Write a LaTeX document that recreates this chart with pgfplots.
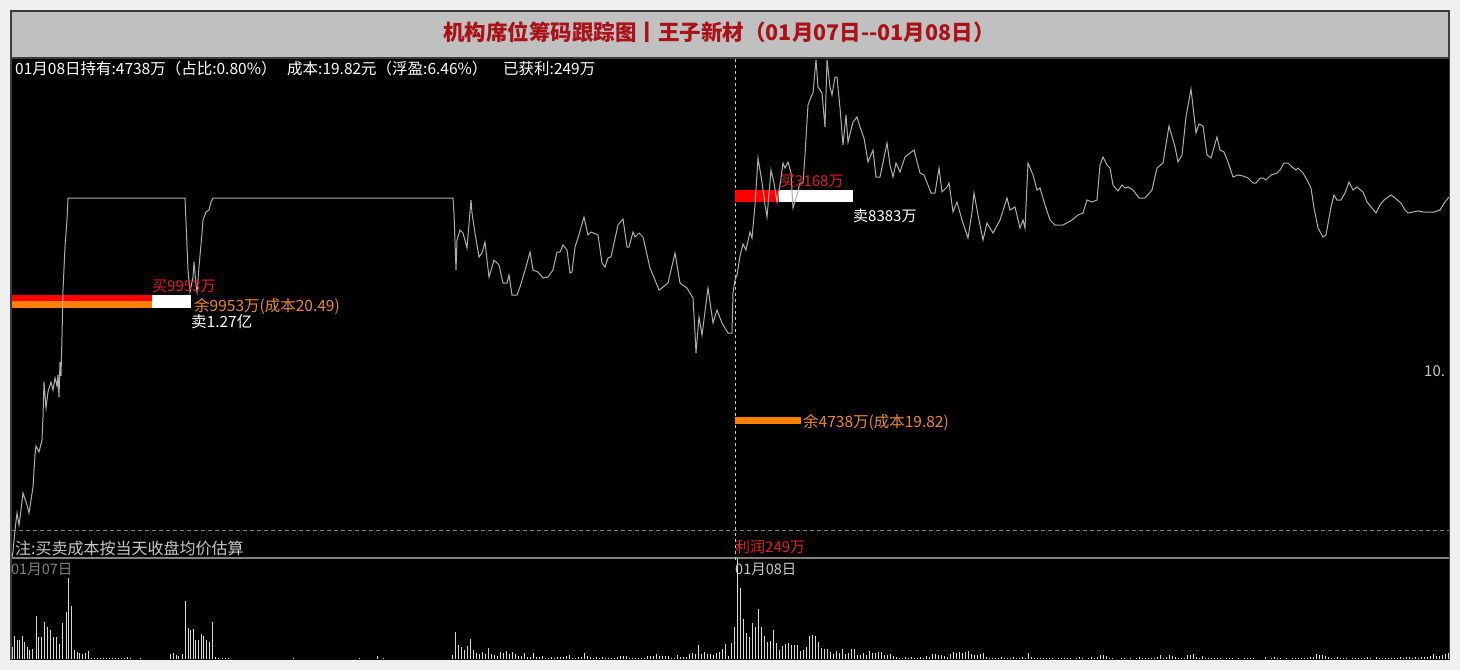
\documentclass[border=0pt]{standalone}
\usepackage{fontspec}
\setmainfont{Noto Sans CJK SC}
\usepackage{pgfplots}
\pgfplotsset{compat=1.18}
\definecolor{outerbg}{RGB}{240,240,240}
\definecolor{framec}{RGB}{60,60,60}
\definecolor{titlebg}{RGB}{192,192,192}
\definecolor{titlered}{RGB}{168,18,24}
\definecolor{pricec}{RGB}{175,175,175}
\definecolor{volc}{RGB}{215,215,215}
\definecolor{buyred}{RGB}{255,0,0}
\definecolor{txtred}{RGB}{225,30,30}
\definecolor{restor}{RGB}{255,128,0}
\definecolor{txtor}{RGB}{235,135,50}
\definecolor{sepgray}{RGB}{128,128,128}
\definecolor{notec}{RGB}{200,200,200}
\begin{document}
\begin{tikzpicture}
\useasboundingbox (0,0) rectangle (1460pt,670pt);
\begin{scope}[x=1pt,y=-1pt,shift={(0pt,670pt)}]
\fill[outerbg] (0,0) rectangle (1460,670);
\fill[framec] (10,10) rectangle (1450,660);
\fill[titlebg] (12,12) rectangle (1448,57);
\fill[black] (12,59) rectangle (1449,660);
\end{scope}
\begin{axis}[at={(0pt,0pt)}, anchor=south west, width=1460pt, height=670pt,
  scale only axis, xmin=0, xmax=1460, ymin=0, ymax=670, y dir=reverse,
  hide axis, clip=false]
% separator and grid lines
\draw[sepgray, line width=2pt] (axis cs:12,557.5) -- (axis cs:1449,557.5);
\draw[sepgray, line width=1pt, dash pattern=on 4pt off 3pt] (axis cs:12,530) -- (axis cs:1449,530);
\draw[notec, line width=1pt, dash pattern=on 3pt off 3pt] (axis cs:735,59) -- (axis cs:735,560);
% buy / sell / remaining bars
\addplot[fill=buyred, draw=none] coordinates {(12,295) (152,295) (152,301) (12,301)} --cycle;
\addplot[fill=restor, draw=none] coordinates {(12,301) (152,301) (152,308) (12,308)} --cycle;
\addplot[fill=white, draw=none] coordinates {(152,295) (191,295) (191,308) (152,308)} --cycle;
\addplot[fill=buyred, draw=none] coordinates {(735,190) (779,190) (779,202) (735,202)} --cycle;
\addplot[fill=white, draw=none] coordinates {(779,190) (853,190) (853,202) (779,202)} --cycle;
\addplot[fill=restor, draw=none] coordinates {(735,417) (801,417) (801,424) (735,424)} --cycle;
% price line
\addplot[pricec, line width=1pt] coordinates {
(12,557) (13,552) (15,530) (17,513) (19,525) (21,510) (23,493) (27,505) (29,513) (33,487)
(35,455) (36,446) (39,452) (42,440) (43,417) (44,382) (46,408) (48,392) (51,382) (53,390)
(55,378) (57,386) (58,375) (59,397) (60,362) (61,376) (62,337) (63,290) (65,247) (67,220) (68,198)
(185,198) (188,270) (190,292) (193,277) (194,262) (196,285) (197,292) (199,267) (202,233)
(203,220) (206,212) (209,210) (211,202) (213,198)
(453,198) (454,213) (456,270) (457,240) (460,230) (463,233) (467,248) (471,200) (472,213)
(475,233) (479,257) (482,253) (485,242) (487,260) (489,277) (492,267) (494,260) (499,265)
(503,283) (507,283) (509,275) (512,295) (517,295) (520,287) (526,267) (530,252) (533,270)
(538,272) (543,278) (548,277) (553,270) (557,252) (560,252) (563,245) (567,250) (570,273)
(572,272) (575,247) (578,238) (584,217) (588,235) (591,232) (598,235) (602,263) (605,267)
(608,258) (611,257) (618,225) (623,219) (627,247) (629,247) (633,232) (635,237) (639,233)
(643,237) (650,268) (653,275) (659,290) (663,287) (668,283) (675,253) (680,283) (687,288)
(693,298) (695,333) (696,353) (699,317) (702,335) (708,288) (713,323) (717,310) (722,323)
(728,333) (732,333) (733,293) (735,280) (737,275) (740,256)
(741,252) (743,244) (746,250) (750,232) (752,238) (755,205) (758,158) (762,182) (765,205)
(767,217) (771,170) (774,183) (777,202) (780,185) (783,163) (785,168) (788,162) (791,173)
(793,208) (797,195) (800,183) (803,183) (805,155) (808,105) (811,97) (813,93) (816,60)
(818,87) (822,93) (825,127) (827,60) (830,87) (832,95) (835,77) (837,77) (840,108) (843,145)
(846,115) (848,142) (853,122) (857,117) (860,127) (864,138) (868,162) (873,150) (876,177)
(880,177) (887,143) (890,165) (893,177) (896,163) (900,172) (905,157) (910,153) (914,150)
(920,173) (924,175) (928,185) (931,193) (935,193) (939,168) (942,192) (947,187) (949,183)
(953,212) (957,202) (962,220) (968,238) (972,212) (974,193) (978,215) (983,240) (987,223)
(993,233) (1000,220) (1007,198) (1010,210) (1015,207) (1020,228) (1023,220) (1025,228)
(1028,163) (1033,175) (1037,190) (1040,188) (1045,205) (1050,220) (1055,225) (1063,225)
(1072,220) (1078,215) (1083,213) (1087,200) (1092,202) (1097,200) (1100,165) (1103,157)
(1107,165) (1110,168) (1113,185) (1118,191) (1122,185) (1125,188) (1128,187) (1133,190)
(1139,198) (1145,198) (1152,190) (1157,168) (1163,163) (1169,126) (1175,147) (1178,162)
(1182,155) (1186,117) (1191,89) (1196,133) (1199,124) (1203,126) (1207,155) (1211,158)
(1217,137) (1220,150) (1224,152) (1228,162) (1233,177) (1238,175) (1243,176) (1248,178)
(1253,183) (1256,183) (1260,178) (1263,178) (1266,180) (1271,175) (1277,173) (1280,170)
(1284,163) (1288,163) (1292,167) (1296,170) (1298,168) (1303,173) (1307,180) (1311,188)
(1314,208) (1318,228) (1323,237) (1326,235) (1331,207) (1334,195) (1337,200) (1341,200)
(1345,193) (1349,182) (1353,190) (1357,187) (1363,192) (1367,202) (1372,208) (1376,213)
(1380,205) (1384,200) (1391,195) (1395,198) (1401,203) (1405,210) (1408,213) (1413,212)
(1418,211) (1423,212) (1428,212) (1434,212) (1440,210) (1445,202) (1449,197)};
% texts
\node[text=titlered, font=\fontsize{21.5}{21.5}\selectfont\bfseries, inner sep=0pt] at (axis cs:719,32) {机构席位筹码跟踪图丨王子新材（01月07日-{}-01月08日）};
\node[anchor=west, text=white, font=\fontsize{15.5}{15.5}\selectfont, inner sep=0pt] at (axis cs:15,69) {01月08日持有:4738万（占比:0.80\%）};
\node[anchor=west, text=white, font=\fontsize{15.5}{15.5}\selectfont, inner sep=0pt] at (axis cs:287,69) {成本:19.82元（浮盈:6.46\%）};
\node[anchor=west, text=white, font=\fontsize{15.5}{15.5}\selectfont, inner sep=0pt] at (axis cs:503,69) {已获利:249万};
\node[anchor=west, text=txtred, font=\fontsize{15}{15}\selectfont, inner sep=0pt] at (axis cs:152,286) {买9953万};
\node[anchor=west, text=txtor, font=\fontsize{15.5}{15.5}\selectfont, inner sep=0pt] at (axis cs:194,306) {余9953万(成本20.49)};
\node[anchor=west, text=white, font=\fontsize{15.5}{15.5}\selectfont, inner sep=0pt] at (axis cs:191,322) {卖1.27亿};
\node[anchor=west, text=txtred, font=\fontsize{15}{15}\selectfont, inner sep=0pt] at (axis cs:780,181) {买3168万};
\node[anchor=west, text=white, font=\fontsize{15}{15}\selectfont, inner sep=0pt] at (axis cs:853,216) {卖8383万};
\node[anchor=west, text=txtor, font=\fontsize{15.5}{15.5}\selectfont, inner sep=0pt] at (axis cs:803,422) {余4738万(成本19.82)};
\node[anchor=west, text=notec, font=\fontsize{15}{15}\selectfont, inner sep=0pt] at (axis cs:1424,371) {10.};
\node[anchor=west, text=notec, font=\fontsize{16}{16}\selectfont, inner sep=0pt] at (axis cs:15,548) {注:买卖成本按当天收盘均价估算};
\node[anchor=west, text=txtred, font=\fontsize{15}{15}\selectfont, inner sep=0pt] at (axis cs:735,547) {利润249万};
\node[anchor=west, text=sepgray, font=\fontsize{14.5}{14.5}\selectfont, inner sep=0pt] at (axis cs:11,569) {01月07日};
\node[anchor=west, text=notec, font=\fontsize{14.5}{14.5}\selectfont, inner sep=0pt] at (axis cs:735,569) {01月08日};
\end{axis}
\begin{axis}[at={(11pt,11pt)}, anchor=south west, width=1438pt, height=100pt,
  scale only axis, xmin=11, xmax=1449, ymin=0, ymax=100, hide axis, clip=false]
\addplot[ycomb, volc, line width=1pt] coordinates {
(12,12) (14,23) (17,19) (19,19) (22,23) (24,17) (27,12) (29,9) (32,10) (36,43) (38,22) (41,22)
(44,37) (47,32) (50,29) (53,22) (56,22) (59,15) (62,36) (66,47) (68,81) (71,53) (74,9) (77,7)
(79,6) (82,5) (85,6) (88,8) (91,1.5) (94,1.5) (97,1) (100,1) (103,1) (106,1) (109,1) (112,1)
(115,1) (118,1) (121,1) (124,1.5) (127,2) (130,1) (140,1) (170,5) (173,6) (176,4) (178,3)
(182,5) (185,58) (188,31) (190,29) (193,30) (195,19) (198,19) (201,25) (203,23) (206,19)
(209,17) (212,37) (215,2) (218,1.5) (222,1) (225,1) (228,1) (293,1) (359,1) (377,3) (383,1)
(452,4) (455,27) (458,14.5) (461,12) (464,8.6) (467,13.4) (470,19.7) (473,9.3) (476,6.5)
(479,5.5) (482,7) (485,5) (488,11) (491,5) (494,4) (497,3) (500,7) (503,6.5) (506,8) (509,5)
(512,7) (515,5) (518,3.5) (521,3.5) (524,6) (527,2) (530,2) (533,6) (536,2) (539,2) (542,3.5)
(545,1) (548,1) (551,2) (554,1) (557,2) (560,2) (563,2.5) (566,3) (569,4) (572,1) (575,1)
(578,2) (581,2) (584,6) (587,3) (590,2) (593,1) (596,2) (599,1) (602,2) (605,1) (608,1)
(611,1) (614,1) (617,2) (620,3) (623,3.5) (626,3) (629,1) (632,1) (635,1) (638,1) (641,1)
(644,1) (647,3) (650,3) (653,3) (656,5) (659,3) (662,3) (665,3) (668,3) (671,1) (674,1)
(677,4) (680,2) (683,2) (686,2) (689,5) (692,6) (695,5) (698,14.5) (701,5) (704,7) (707,5)
(710,5) (713,4) (716,6) (719,7) (722,10) (725,15) (728,3) (731,16) (734,32)
(737,100) (740,70.7) (743,39.7) (746,25.7) (749,22.3) (752,35.7) (755,31.7) (758,49.7)
(761,31.7) (764,23) (767,17.3) (770,18.3) (773,29) (776,16.3) (779,9) (782,13) (785,15)
(788,15.7) (791,13.7) (794,14) (797,14) (800,8.3) (803,9) (806,12.3) (809,23) (812,24)
(815,23) (818,17.3) (821,10.7) (824,9.7) (827,9.7) (830,7.3) (833,5) (836,8.3) (839,6)
(842,10) (845,5) (848,5.7) (851,10.3) (854,10.3) (857,4) (860,4) (863,5.7) (866,4) (869,7.7)
(872,6.3) (875,5.7) (878,7.3) (881,7.3) (884,4) (887,4) (890,4.7) (893,3) (896,2) (899,1)
(902,1) (905,2) (908,1) (911,2) (914,1) (917,1) (920,2) (923,1) (926,3) (929,2) (932,5)
(935,5) (938,3.7) (941,4) (944,3) (947,2.3) (950,5) (953,7.3) (956,6.3) (959,7.3) (962,6.3)
(965,7.3) (968,8.3) (971,5) (974,4) (977,4) (980,5) (983,6.3) (986,2) (989,1) (992,1) (995,1)
(998,1) (1001,2) (1004,1) (1007,1) (1010,1) (1013,2) (1016,1) (1019,1) (1022,2) (1025,1)
(1028,6.3) (1031,2) (1034,1) (1037,1) (1040,1) (1043,1) (1046,1) (1049,1) (1052,1) (1058,1)
(1061,1) (1064,1) (1067,1) (1070,1) (1076,1) (1079,2) (1082,1) (1088,1) (1091,2) (1094,1)
(1097,2) (1100,4) (1103,4) (1106,3) (1109,1) (1112,1) (1121,1) (1124,1) (1130,1) (1136,1)
(1139,2) (1142,1) (1145,1) (1148,1) (1151,1) (1154,1) (1157,2) (1160,4) (1163,1) (1166,2)
(1169,4) (1172,3) (1175,2) (1178,1) (1181,1) (1184,1) (1187,4) (1190,4) (1193,5) (1196,2)
(1199,1) (1202,3) (1205,1) (1208,1) (1211,1) (1214,1) (1217,1) (1220,1) (1226,1) (1229,1)
(1232,1) (1238,1) (1244,1) (1247,1) (1250,1) (1253,1) (1265,2) (1271,1) (1274,2) (1277,1)
(1280,1) (1286,1) (1292,1) (1295,1) (1298,1) (1301,1) (1304,1) (1307,1) (1310,2) (1313,2)
(1316,5) (1319,4) (1322,4) (1325,3) (1328,2) (1331,1) (1334,1) (1337,2) (1340,1) (1343,1)
(1346,1) (1352,1) (1355,1) (1358,1) (1361,1) (1364,1) (1367,2) (1370,1) (1376,2) (1379,1)
(1382,1) (1385,1) (1388,1) (1391,1) (1394,1) (1397,1) (1400,2) (1403,1) (1406,2) (1409,2)
(1412,1) (1415,2) (1418,1) (1421,2) (1424,2) (1427,2) (1430,3) (1433,5) (1436,3) (1439,3)
(1442,4) (1445,5) (1448,6)};
\end{axis}
\end{tikzpicture}
\end{document}
